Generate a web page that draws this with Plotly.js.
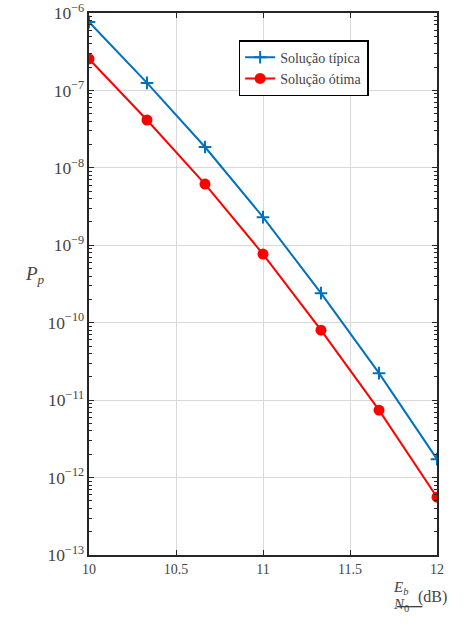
<!DOCTYPE html>
<html><head><meta charset="utf-8">
<script src="https://cdn.plot.ly/plotly-3.0.1.min.js"></script>
<style>html,body{margin:0;padding:0;background:#fff}</style>
</head><body>
<div id="chart" style="width:474px;height:628px"></div>
<script>
const ebno = [10, 10.3333, 10.6667, 11, 11.3333, 11.6667, 12];
const tipica = [7.65e-7, 1.25e-7, 1.86e-8, 2.31e-9, 2.41e-10, 2.23e-11, 1.73e-12];
const otima = [2.55e-7, 4.15e-8, 6.18e-9, 7.69e-10, 8.0e-11, 7.43e-12, 5.58e-13];
const names = ['Solução típica', 'Solução ótima'];
const xTicks = [10, 10.5, 11, 11.5, 12];
const xTickText = ['10', '10.5', '11', '11.5', '12'];

const SERIF = 'Liberation Serif, serif';
const traces = [
  {x: ebno, y: tipica, name: names[0], mode: 'lines+markers', type: 'scatter',
   line: {color: '#0072BD', width: 2}, marker: {symbol: 'cross-thin', size: 9, line: {color: '#0072BD', width: 2}, color: '#0072BD'}},
  {x: ebno, y: otima, name: names[1], mode: 'lines+markers', type: 'scatter',
   line: {color: '#FF0000', width: 2}, marker: {symbol: 'circle', size: 11, color: '#FF0000'}}
];
function axisCommon() {
  return {showline: true, linecolor: '#262626', linewidth: 2, mirror: 'allticks', ticks: 'inside',
    tickcolor: '#262626', ticklen: 5, tickwidth: 1, showgrid: true, gridcolor: '#d9d9d9', gridwidth: 1, zeroline: false};
}
const lay = {
  width: 474, height: 628,
  margin: {l: 89, r: 37, t: 13, b: 73},
  font: {family: SERIF, size: 14},
  showlegend: true,
  legend: {x: 0.43, y: 0.95, xanchor: 'left', yanchor: 'top', bgcolor: '#fff', bordercolor: '#000', borderwidth: 1.5},
  xaxis: Object.assign(axisCommon(), {range: [10, 12], tickvals: xTicks, ticktext: xTickText}),
  yaxis: Object.assign(axisCommon(), {type: 'log', range: [-13, -6], dtick: 1, exponentformat: 'power',
    minor: {ticks: 'inside', ticklen: 3, tickcolor: '#262626', showgrid: false}}),
  annotations: [
    {text: '<i>P<sub>p</sub></i>', xref: 'paper', yref: 'paper', x: -0.19, y: 0.517, showarrow: false,
     font: {family: SERIF, size: 19}},
    {text: '<i>E<sub>b</sub></i>', xref: 'paper', yref: 'paper', x: 0.922, y: -0.081, showarrow: false,
     font: {family: SERIF, size: 15}},
    {text: '<i>N</i><sub>0</sub>', xref: 'paper', yref: 'paper', x: 0.924, y: -0.113, showarrow: false,
     font: {family: SERIF, size: 15}},
    {text: '(dB)', xref: 'paper', yref: 'paper', x: 0.94, y: -0.097, xanchor: 'left', showarrow: false,
     font: {family: SERIF, size: 16}}
  ],
  shapes: [
    {type: 'line', xref: 'paper', yref: 'paper', x0: 0.885, x1: 0.958, y0: -0.0955, y1: -0.0955, line: {color: '#000', width: 1}}
  ]
};
Plotly.newPlot('chart', traces, lay, {displayModeBar: false});
</script>
</body></html>
